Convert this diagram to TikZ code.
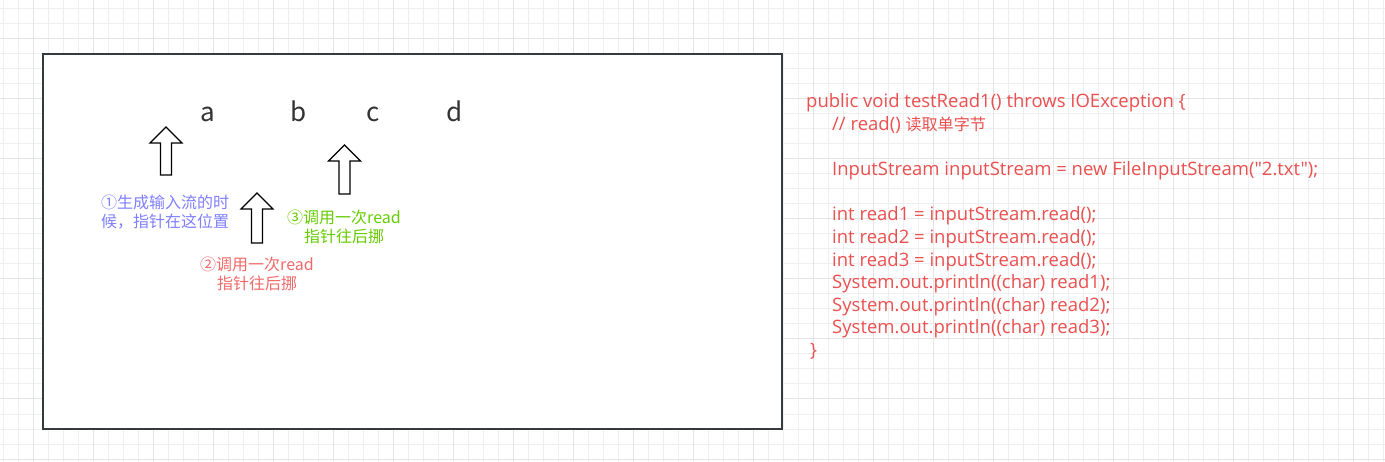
\documentclass[tikz,border=0pt]{standalone}
\usepackage{fontspec}
\setmainfont{Noto Sans CJK SC}[Ligatures=TeXOff]
\newfontfamily\codefont{Open Sans}[Ligatures=TeXOff]
\newfontfamily\cjk{Noto Sans CJK SC}[Ligatures=TeXOff,Scale=0.87]
\definecolor{gridminor}{HTML}{EFEFEF}
\definecolor{gridmajor}{HTML}{E4E4E4}
\definecolor{boxline}{HTML}{36393D}
\definecolor{letter}{HTML}{333333}
\definecolor{codered}{HTML}{EA5050}
\definecolor{lblblue}{HTML}{7F7FFF}
\definecolor{lblgreen}{HTML}{66CC00}
\definecolor{lblred}{HTML}{F06A6A}
\newcommand\blockup[3]{% center x, tip y, bottom y
  \draw[blockarrow] (#1,#2) -- (#1+16,#2+16) -- (#1+5.5,#2+16) -- (#1+5.5,#3)
    -- (#1-5.5,#3) -- (#1-5.5,#2+16) -- (#1-16,#2+16) -- cycle;}
\begin{document}
\begin{tikzpicture}[x=1pt,y=-1pt,
  blockarrow/.style={draw=black,fill=white,line width=1.2pt,line join=miter},
  letterlbl/.style={text=letter,font=\fontsize{26}{30}\selectfont,anchor=base,inner sep=0},
  codeline/.style={text=codered,font=\codefont\fontsize{18.5}{22}\selectfont,anchor=base west,inner sep=0},
  note/.style={font=\fontsize{16}{19}\selectfont,align=center,inner sep=0}]
\useasboundingbox (0,0) rectangle (1385,462);
\fill[white] (0,0) rectangle (1385,462);
% grid
\foreach \x in {3,18,...,1385} \draw[gridminor,line width=1pt] (\x,0) -- (\x,462);
\foreach \y in {9,24,...,462} \draw[gridminor,line width=1pt] (0,\y) -- (1385,\y);
\foreach \x in {33,93,...,1385} \draw[gridmajor,line width=1pt] (\x,0) -- (\x,462);
\foreach \y in {39,99,...,462} \draw[gridmajor,line width=1pt] (0,\y) -- (1385,\y);
% box
\draw[boxline,fill=white,line width=1.5pt] (43,54) rectangle (782,429);
% letters
\node[letterlbl] (la) at (208,122) {a};
\node[letterlbl] (lb) at (299,122) {b};
\node[letterlbl] (lc) at (373,122) {c};
\node[letterlbl] (ld) at (455,122) {d};
% arrows
\blockup{166}{127}{175}
\blockup{257}{193}{243}
\blockup{344.5}{145}{194}
% notes
\node[note,text=lblblue] (n1) at (165,212.5) {①生成输入流的时\\候，指针在这位置};
\node[note,text=lblred] (n2) at (257,273.5) {②调用一次read\\指针往后挪};
\node[note,text=lblgreen] (n3) at (344,226.5) {③调用一次read\\指针往后挪};
% code
\node[codeline] (c1) at (806,108) {public void testRead1() throws IOException \{};
\node[codeline] (c2) at (832,130.6) {// read() {\cjk 读取单字节}};
\node[codeline] (c3) at (832,175.8) {InputStream inputStream = new FileInputStream("2.txt");};
\node[codeline] (c4) at (832,221) {int read1 = inputStream.read();};
\node[codeline] (c5) at (832,243.6) {int read2 = inputStream.read();};
\node[codeline] (c6) at (832,266.2) {int read3 = inputStream.read();};
\node[codeline] (c7) at (832,288.8) {System.out.println((char) read1);};
\node[codeline] (c8) at (832,311.4) {System.out.println((char) read2);};
\node[codeline] (c9) at (832,334) {System.out.println((char) read3);};
\node[codeline] (c10) at (810,356.6) {\}};
\end{tikzpicture}
\end{document}
